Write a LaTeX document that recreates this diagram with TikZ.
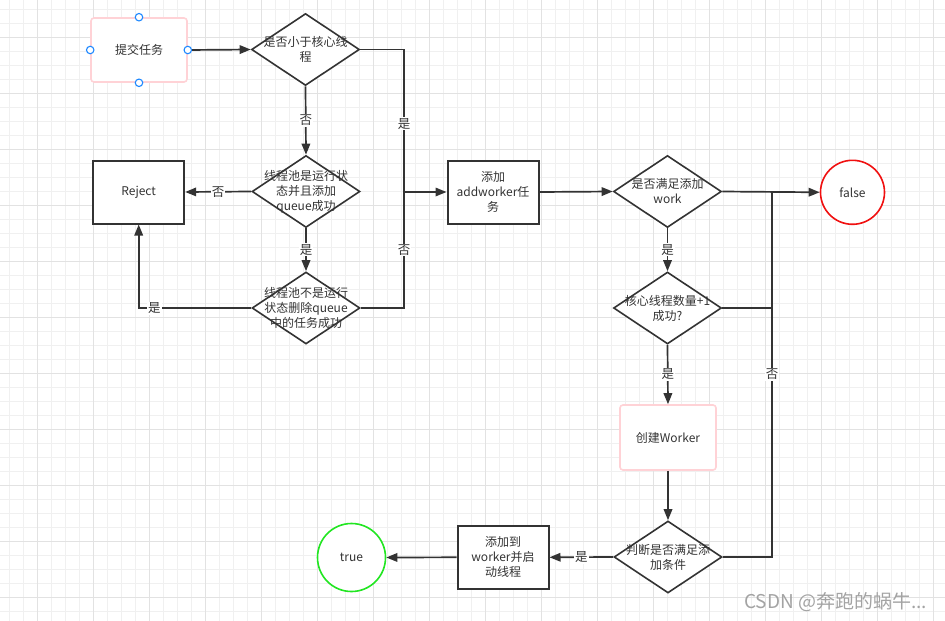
\documentclass[tikz,border=0pt]{standalone}
\usepackage{fontspec}
\setmainfont{Noto Sans CJK SC}
\usetikzlibrary{shapes.geometric,arrows.meta,calc}
\definecolor{ink}{HTML}{333333}
\definecolor{pinkb}{HTML}{FFD2D6}
\definecolor{handle}{HTML}{1E88FF}
\definecolor{gridminor}{HTML}{F0F0F0}
\definecolor{gridmajor}{HTML}{E2E2E2}
\definecolor{redc}{HTML}{F01010}
\definecolor{greenc}{HTML}{22E622}
\tikzset{
  txt/.style={text=ink, font=\fontsize{12}{15}\selectfont, align=center, inner sep=0pt},
  dia/.style={diamond, draw=ink, line width=1.6pt, fill=white, minimum width=108pt, minimum height=72pt, inner sep=0pt},
  box/.style={rectangle, draw=ink, line width=2pt, fill=white, minimum width=91pt, minimum height=63pt, txt},
  pinkbox/.style={rectangle, rounded corners=3pt, draw=pinkb, line width=1.6pt, fill=white, txt},
  endc/.style={circle, line width=1.6pt, fill=white, txt},
  ln/.style={draw=ink, line width=1.7pt},
  arr/.style={ln, -{Triangle[length=11pt,width=8.5pt]}},
  lab/.style={fill=white, text=ink, font=\fontsize{12.5}{14}\selectfont, inner sep=1pt},
  hdl/.style={circle, draw=handle, fill=white, line width=1.1pt, minimum size=7.5pt, inner sep=0pt},
}
\begin{document}
\begin{tikzpicture}[x=1pt,y=-1pt]
\useasboundingbox (0,0) rectangle (945,621);
\fill[white] (0,0) rectangle (945,621);
% grid
\foreach \i in {0,...,67} {\draw[gridminor, line width=1pt] ({9.33+14*\i},0) -- ++(0,621);}
\foreach \i in {0,...,44} {\draw[gridminor, line width=1pt] (0,{9.33+14*\i}) -- ++(945,0);}
\foreach \i in {0,...,16} {\draw[gridmajor, line width=1pt] ({37.33+56*\i},0) -- ++(0,621);}
\foreach \i in {0,...,10} {\draw[gridmajor, line width=1pt] (0,{37.33+56*\i}) -- ++(945,0);}

% nodes
\node[pinkbox, minimum width=96pt, minimum height=64pt] (submit) at (139,50) {提交任务};
\node[dia] (d1) at (305.5,49.5) {};
\node[txt] (d1t) at (d1.center) {是否小于核心线\\程};
\node[dia] (d2) at (306,191.5) {};
\node[txt] (d2t) at (d2.center) {线程池是运行状\\态并且添加\\queue成功};
\node[dia] (d3) at (306,308) {};
\node[txt] (d3t) at (d3.center) {线程池不是运行\\状态删除queue\\中的任务成功};
\node[box] (reject) at (138.7,192) {Reject};
\node[box] (add) at (493,192) {添加\\addworker任\\务};
\node[dia] (d4) at (667.5,191.5) {};
\node[txt] (d4t) at (d4.center) {是否满足添加\\work};
\node[endc, draw=redc, minimum size=64pt] (false) at (852.5,192.3) {false};
\node[dia] (d5) at (667.5,308) {};
\node[txt] (d5t) at (d5.center) {核心线程数量+1\\成功?};
\node[pinkbox, minimum width=96pt, minimum height=65pt] (create) at (668,437.5) {创建Worker};
\node[dia] (judge) at (668,557) {};
\node[txt] (judget) at (judge.center) {判断是否满足添\\加条件};
\node[box] (add2) at (503,557.3) {添加到\\worker并启\\动线程};
\node[endc, draw=greenc, minimum size=68pt] (true) at (351.5,557.5) {true};

% junctions
\coordinate (j1) at (404,192);
\coordinate (j2) at (772,192);

% connectors
\draw[arr] (submit.east) -- (d1.west);
\draw[ln] (d1.east) -| (j1) node[lab, pos=0.76] {是};
\draw[ln] (d3.east) -| (j1) node[lab, pos=0.75] {否};
\draw[arr] (j1) -- (add.west);
\draw[arr] (d1.south) -- (d2.north) node[lab, midway] {否};
\draw[arr] (d2.west) -- (reject.east) node[lab, midway] {否};
\draw[arr] (d2.south) -- (d3.north) node[lab, midway] {是};
\draw[arr] (d3.west) -| (reject.south) node[lab, pos=0.43] {是};

\draw[arr] (add.east) -- (d4.west);
\draw[arr] (d4.east) -- (false.west);
\draw[arr] (d4.south) -- (d5.north) node[lab, midway] {是};
\draw[ln] (d5.east) -- (j2 |- d5.east);
\draw[arr] (d5.south) -- (create.north) node[lab, midway] {是};
\draw[arr] (create.south) -- (judge.north);
\draw[ln] (judge.east) -| (j2) node[lab, pos=0.75] {否};
\draw[arr] (judge.west) -- (add2.east) node[lab, midway] {是};
\draw[arr] (add2.west) -- (true.east);

% selection handles (drawn on top)
\node[hdl] (h1) at (submit.north) {};
\node[hdl] (h2) at (submit.south) {};
\node[hdl] (h3) at (submit.west) {};
\node[hdl] (h4) at (submit.east) {};

% watermark
\node[anchor=west, text=black!36, font=\fontsize{19}{22}\selectfont, inner sep=0pt] (wm) at (744,602) {CSDN @奔跑的蜗牛...};
\end{tikzpicture}
\end{document}
